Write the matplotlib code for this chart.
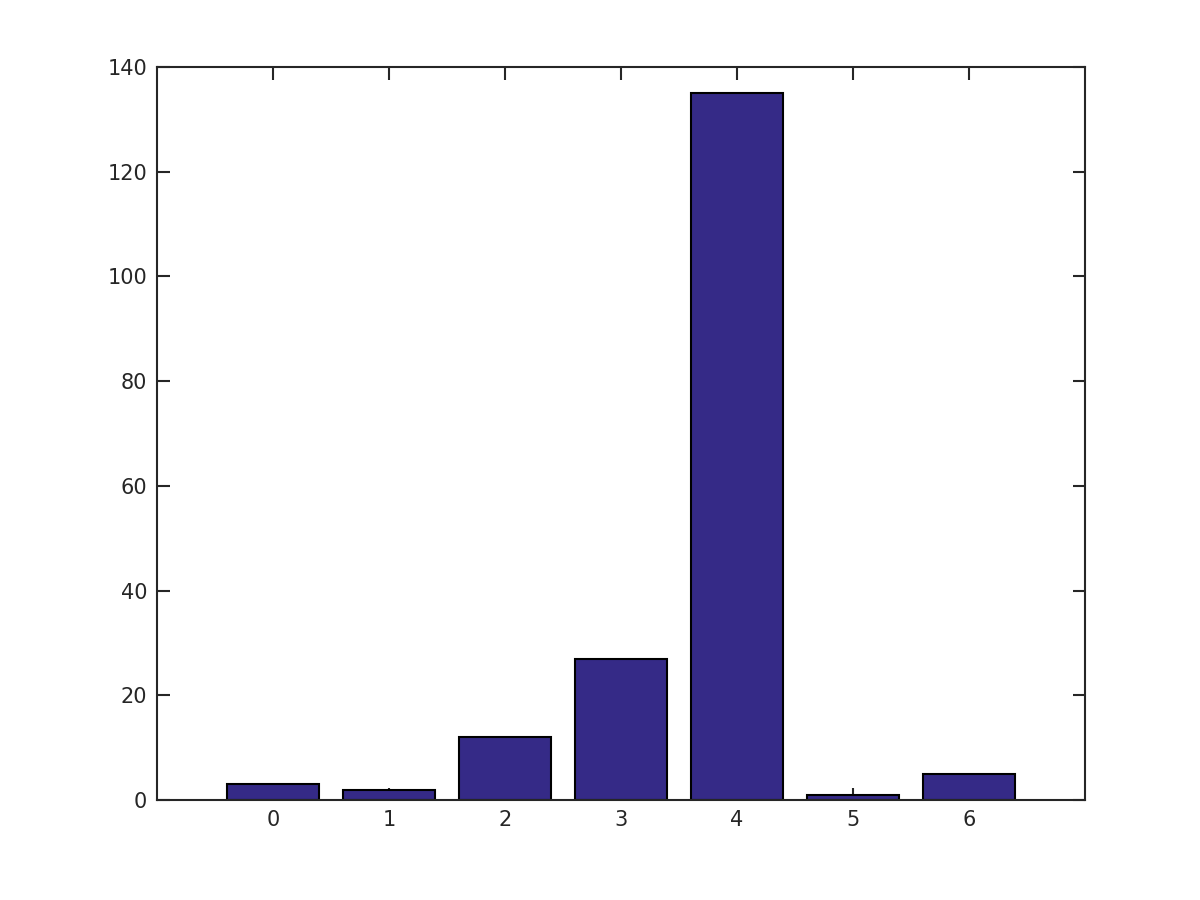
import matplotlib
matplotlib.use('Agg')
import matplotlib.pyplot as plt

categories = [0, 1, 2, 3, 4, 5, 6]
counts = [3, 2, 12, 27, 135, 1, 5]
y_ticks = [0, 20, 40, 60, 80, 100, 120, 140]

fig = plt.figure(figsize=(12, 9), dpi=100)
ax = fig.add_axes([0.1308, 0.1111, 0.7734, 0.8145])

ax.bar(categories, counts, width=0.8, color='#352a87', edgecolor='black', linewidth=1.5)

ax.set_xlim(-1, 7)
ax.set_ylim(0, 140)
ax.set_xticks(categories)
ax.set_yticks(y_ticks)
ax.set_axisbelow(True)

for s in ax.spines.values():
    s.set_color('#262626')
    s.set_linewidth(1.5)
ax.tick_params(direction='in', length=9, width=1.5, color='#262626',
               labelsize=15, labelcolor='#262626', top=True, right=True, pad=7)

fig.savefig('out.png', dpi=100)
